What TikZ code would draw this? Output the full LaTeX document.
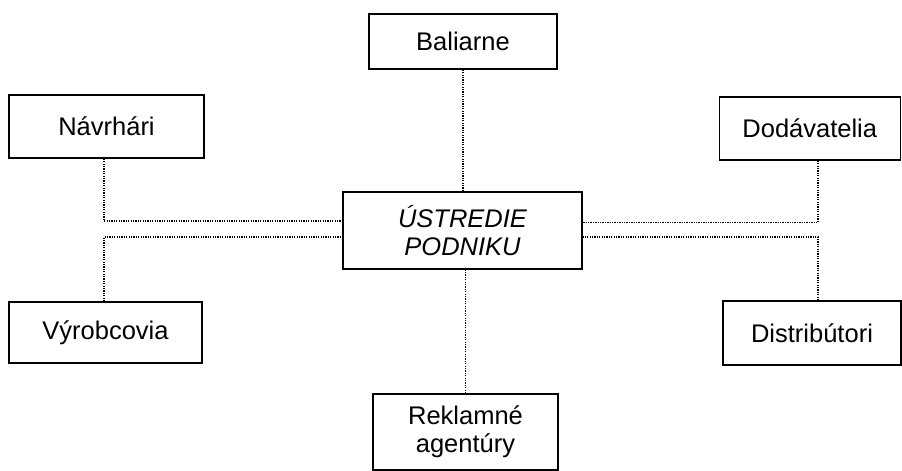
\documentclass[tikz,border=0pt]{standalone}
\usepackage{fontspec}
\setmainfont{Liberation Sans}
\begin{document}
\begin{tikzpicture}[x=1pt,y=-1pt,
  box/.style={draw=black,line width=1.5pt,fill=white,inner sep=0pt,align=center,
    font=\fontsize{25.5}{28.5}\selectfont},
  link/.style={draw=black,line width=1.4pt,dash pattern=on 1.3pt off 1.1pt}]
\useasboundingbox (0,0) rectangle (902,471);

% organisation units around the head office
\node[box,minimum width=188pt,minimum height=55pt] (bal) at (463,41.5) {Baliarne};
\node[box,minimum width=195pt,minimum height=63pt] (nav) at (106.5,126.5) {Návrhári};
\node[box,minimum width=181pt,minimum height=63pt] (dod) at (809.75,128.5) {Dodávatelia};
\node[box,minimum width=239pt,minimum height=77pt,font=\fontsize{25.5}{28.5}\selectfont\itshape] (ctr) at (462.5,230.5) {ÚSTREDIE\\PODNIKU};
\node[box,minimum width=193pt,minimum height=61pt] (vyr) at (105.5,332.5) {Výrobcovia};
\node[box,minimum width=178pt,minimum height=64pt] (dis) at (812,333) {Distribútori};
\node[box,minimum width=185pt,minimum height=76pt] (rek) at (465.5,432) {Reklamné\\agentúry};

% bend points of the side links
\coordinate (nl) at (104,221);
\coordinate (vl) at (104,237);
\coordinate (dl) at (818,222.5);
\coordinate (sl) at (818,237);

% dotted links
\draw[link] (bal.south) -- (bal.south |- ctr.north);
\draw[link] (rek.north) -- (rek.north |- ctr.south);
\draw[link] (nl |- nav.south) -- (nl) -- (nl -| ctr.west);
\draw[link] (vl |- vyr.north) -- (vl) -- (vl -| ctr.west);
\draw[link] (dl |- dod.south) -- (dl) -- (dl -| ctr.east);
\draw[link] (sl |- dis.north) -- (sl) -- (sl -| ctr.east);
\end{tikzpicture}
\end{document}
